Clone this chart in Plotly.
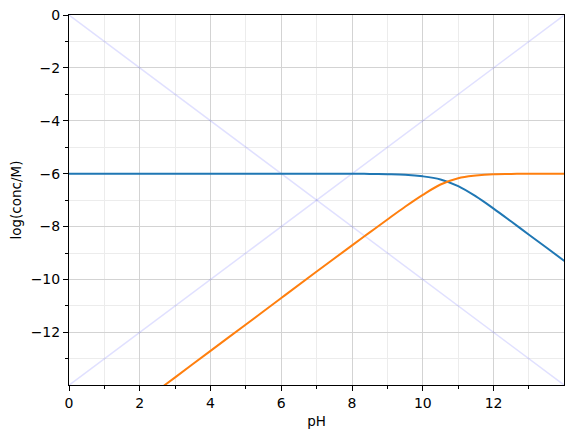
import plotly.graph_objects as go

# pH values and log concentrations
ph_ha = [0, 1, 2, 3, 4, 5, 6, 7, 8, 8.5, 9, 9.5, 10, 10.5, 11, 11.5, 12, 12.5, 13, 13.5, 14]
log_ha = [-6, -6, -6, -6, -6, -6, -6, -6, -6.0, -6.01, -6.02, -6.04, -6.1, -6.22, -6.47, -6.86, -7.32, -7.81, -8.31, -8.8, -9.3]

ph_a = [2, 3, 4, 5, 6, 7, 8, 8.5, 9, 9.5, 10, 10.5, 11, 11.5, 12, 12.5, 13, 14]
log_a = [-14.7, -13.7, -12.7, -11.7, -10.7, -9.7, -8.71, -8.22, -7.73, -7.25, -6.8, -6.41, -6.17, -6.07, -6.02, -6.01, -6.0, -6.0]

ph_ends = [0, 14]
log_h = [0, -14]
log_oh = [-14, 0]

fig = go.Figure()
fig.add_trace(go.Scatter(x=ph_ends, y=log_h, mode='lines',
                         line=dict(color='rgba(0,0,255,0.12)', width=1.5)))
fig.add_trace(go.Scatter(x=ph_ends, y=log_oh, mode='lines',
                         line=dict(color='rgba(0,0,255,0.12)', width=1.5)))
fig.add_trace(go.Scatter(x=ph_ha, y=log_ha, mode='lines', line_shape='spline',
                         line=dict(color='#1f77b4', width=2)))
fig.add_trace(go.Scatter(x=ph_a, y=log_a, mode='lines', line_shape='spline',
                         line=dict(color='#ff7f0e', width=2)))

axis_style = dict(
    showline=True, linecolor='black', linewidth=1, mirror=True,
    ticks='outside', ticklen=5, tickcolor='black',
    showgrid=True, gridcolor='#d3d3d3', gridwidth=1, zeroline=False,
    tickfont=dict(size=14, color='black'), automargin=False,
    ticklabeloverflow='allow',
    minor=dict(dtick=1, showgrid=True, gridcolor='#ececec', ticks='outside',
               ticklen=3, tickcolor='black'),
)

# the page body adds an 8px offset, so the figure is a little smaller
fig.update_layout(
    width=566, height=430,
    margin=dict(l=61, r=10, t=7, b=53),
    plot_bgcolor='white', paper_bgcolor='white',
    font=dict(family='DejaVu Sans', size=14, color='black'),
    showlegend=False,
    xaxis=dict(range=[0, 13.99], dtick=2, title=dict(text='pH', font=dict(size=13.5), standoff=6), **axis_style),
    yaxis=dict(range=[-13.99, 0], dtick=2, title=dict(text='log(conc/M)', font=dict(size=13.5), standoff=8), **axis_style),
)

fig.write_html("out.html")
